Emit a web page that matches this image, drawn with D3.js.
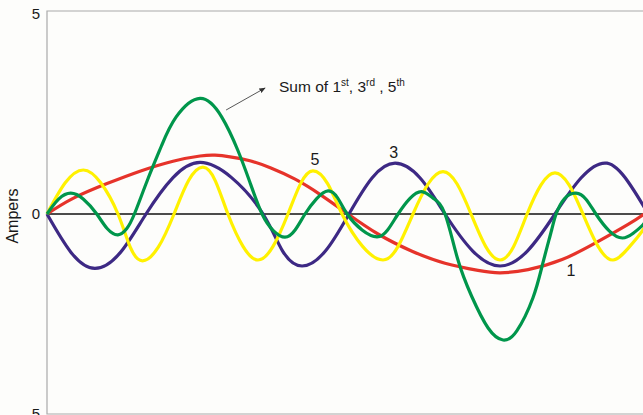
<!DOCTYPE html>
<html lang="en">
<head>
<meta charset="utf-8">
<title>Harmonics: 1st, 3rd, 5th and their sum</title>
<script src="https://cdn.jsdelivr.net/npm/d3@7"></script>
<style>
  body { margin: 0; background: #fdfdfb; }
  svg { display: block; font-family: "Liberation Sans", Arial, sans-serif; }
</style>
</head>
<body>
<script>
// [angle in degrees, amperes]
var fundamental = [[0,0],[15.7,0.39],[36.2,0.76],[56.1,1.07],[76,1.32],[92.3,1.45],[101.3,1.47],[110.4,1.43],
  [122.4,1.33],[135,1.15],[149.6,0.87],[165,0.48],[181.5,0],[199.6,-0.5],[220.1,-0.93],[240,-1.23],
  [259.9,-1.41],[273.2,-1.47],[290.1,-1.39],[310.6,-1.14],[330.5,-0.73],[350.4,-0.26],[359.4,-0.02],[362,0.08]];

var third = [[0,0],[14.5,-0.96],[28.9,-1.36],[44.3,-0.96],[59.7,0],[76,0.91],[92.3,1.29],[111.3,0.91],
  [130.3,0],[142,-0.92],[153.8,-1.3],[168,-0.92],[182.1,0],[196,0.9],[209.9,1.27],[225,0.9],[240,0],
  [256.6,-0.92],[273.2,-1.3],[289.8,-0.92],[306.3,0],[322,0.9],[337.7,1.27],[350.5,0.8],[359.4,0.22],[364,-0.1]];

var fifth = [[0,0],[11,0.78],[21.9,1.1],[32.4,0.78],[42.8,0],[50.2,-0.83],[57.6,-1.17],[67.1,-0.83],
  [76.6,0],[85.3,0.83],[94,1.17],[101.5,0.83],[109.1,0],[118.2,-0.81],[127.2,-1.15],[136.3,-0.81],
  [145.3,0],[152.9,0.76],[160.4,1.08],[169.2,0.76],[177.9,0],[190.3,-0.81],[202.6,-1.15],[211.7,-0.81],
  [220.7,0],[229.8,0.75],[238.8,1.06],[247.3,0.75],[255.7,0],[264.5,-0.81],[273.2,-1.15],[281.4,-0.81],
  [289.5,0],[297.9,0.73],[306.3,1.03],[314.8,0.73],[323.2,0],[332.3,-0.81],[341.3,-1.15],[350.4,-0.86],
  [359.4,-0.4],[364,0]];

var sum135 = [[0,0],[7,0.37],[14.3,0.52],[22,0.37],[30,0],[36.4,-0.37],[42.8,-0.52],[48,-0.37],[52.7,0],
  [60.6,0.85],[69,1.7],[77.8,2.42],[92.3,2.89],[105.3,2.43],[115,1.6],[122.3,0.8],[129.7,0],
  [136.6,-0.42],[143.5,-0.58],[149.6,-0.4],[155.6,0],[162.5,0.38],[169.5,0.58],[175.3,0.4],[181,0],
  [190,-0.4],[199,-0.57],[205.4,-0.4],[211.7,0],[218.9,0.39],[226,0.56],[233,0.39],[240,0],
  [247.6,-1.12],[256,-2.05],[266,-2.85],[275,-3.15],[283.3,-2.92],[293,-2.1],[299,-1.23],[304.3,-0.4],
  [307,0],[312,0.38],[319,0.52],[325,0.37],[331,0],[339,-0.42],[347,-0.6],[353.5,-0.48],[359.4,-0.27],[364,0]];

var yTicks = [-5, 0, 5];
var yTickLabels = ["5", "0", "5"];

// harmonic number labels, placed in data units
var harmonicLabels = [["5", 161.6, 1.375], ["3", 209, 1.54], ["1", 316, -1.4]];

var width = 643, height = 415;

var x = d3.scaleLinear().domain([0, 360]).range([47, 644]);
var y = d3.scaleLinear().domain([-5, 5]).range([414, 14]);

var svg = d3.select("body").append("svg")
  .attr("width", width)
  .attr("height", height);

svg.append("rect")
  .attr("width", width)
  .attr("height", height)
  .attr("fill", "#fdfdfb");

// plot frame (left, top and bottom edges)
svg.append("path")
  .attr("d", "M" + width + ",11H" + x(0) + "V" + y(-5) + "H" + width)
  .attr("fill", "none")
  .attr("stroke", "#aaaaaa")
  .attr("stroke-width", 1.2);

// y axis labels
var yAxis = svg.append("g")
  .attr("transform", "translate(" + x(0) + ",0)")
  .call(d3.axisLeft(y)
    .tickValues(yTicks)
    .tickSize(0)
    .tickPadding(7)
    .tickFormat(function(d, i) { return yTickLabels[i]; }))
  .attr("font-family", null)
  .attr("font-size", 15);
yAxis.select(".domain").remove();
yAxis.selectAll("text").attr("fill", "#1a1a1a");

svg.append("text")
  .attr("transform", "translate(17.5," + (y(0) + 2) + ") rotate(-90)")
  .attr("text-anchor", "middle")
  .attr("font-size", 16)
  .attr("fill", "#1a1a1a")
  .text("Ampers");

// zero line
svg.append("line")
  .attr("x1", x(0)).attr("x2", width)
  .attr("y1", y(0)).attr("y2", y(0))
  .attr("stroke", "#111")
  .attr("stroke-width", 1.5);

var line = d3.line()
  .x(function(d) { return x(d[0]); })
  .y(function(d) { return y(d[1]); })
  .curve(d3.curveNatural);

var series = [
  {data: fundamental, color: "#e6332a"},
  {data: third, color: "#3d2984"},
  {data: fifth, color: "#fff100"},
  {data: sum135, color: "#00964b"}
];

svg.selectAll(".wave")
  .data(series)
  .enter().append("path")
  .attr("class", "wave")
  .attr("d", function(d) { return line(d.data); })
  .attr("fill", "none")
  .attr("stroke", function(d) { return d.color; })
  .attr("stroke-width", 3.2)
  .attr("stroke-linejoin", "round");

svg.selectAll(".hlabel")
  .data(harmonicLabels)
  .enter().append("text")
  .attr("class", "hlabel")
  .attr("x", function(d) { return x(d[1]); })
  .attr("y", function(d) { return y(d[2]); })
  .attr("dy", "0.36em")
  .attr("text-anchor", "middle")
  .attr("font-size", 16)
  .attr("fill", "#1a1a1a")
  .text(function(d) { return d[0]; });

// annotation with arrow
svg.append("defs").append("marker")
  .attr("id", "arrow")
  .attr("viewBox", "0 0 10 10")
  .attr("refX", 9).attr("refY", 5)
  .attr("markerWidth", 7).attr("markerHeight", 7)
  .attr("orient", "auto")
  .append("path")
  .attr("d", "M0,1L10,5L0,9z")
  .attr("fill", "#333");

svg.append("line")
  .attr("x1", x(108)).attr("y1", y(2.6))
  .attr("x2", x(131.5)).attr("y2", y(3.15))
  .attr("stroke", "#444")
  .attr("stroke-width", 0.9)
  .attr("marker-end", "url(#arrow)");

var note = svg.append("text")
  .attr("x", x(139.9))
  .attr("y", y(3.06))
  .attr("font-size", 15.5)
  .attr("fill", "#1a1a1a");
var parts = [["Sum of 1", false], ["st", true], [", 3", false], ["rd", true], [" , 5", false], ["th", true]];
parts.forEach(function(p, i) {
  note.append("tspan")
    .attr("font-size", p[1] ? 10 : 15.5)
    .attr("dy", i === 0 ? 0 : (p[1] ? -6 : 6))
    .text(p[0]);
});
</script>
</body>
</html>
